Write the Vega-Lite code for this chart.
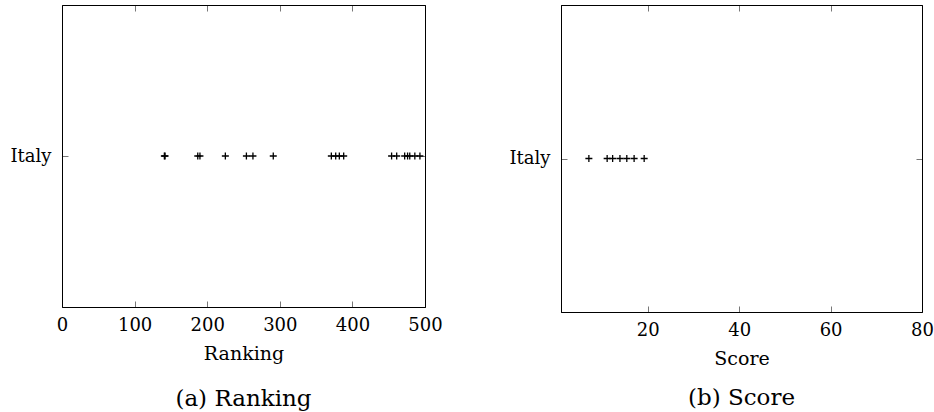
{
  "$schema": "https://vega.github.io/schema/vega-lite/v6.json",
  "background": "white",
  "padding": {"left": 9, "top": 4, "right": 0, "bottom": 0},
  "bounds": "full",
  "spacing": 65,
  "config": {
    "font": "DejaVu Serif",
    "view": {"stroke": "black", "strokeWidth": 1},
    "axis": {
      "labelFont": "DejaVu Serif",
      "titleFont": "DejaVu Serif",
      "labelFontSize": 18,
      "titleFontSize": 19,
      "titleFontWeight": "normal",
      "labelColor": "black",
      "titleColor": "black",
      "domainColor": "black",
      "tickColor": "#777777",
      "tickWidth": 1,
      "labelFlush": false,
      "grid": false
    },
    "title": {"font": "DejaVu Serif", "fontSize": 23, "fontWeight": "normal", "color": "black"}
  },
  "hconcat": [
    {
      "width": 363,
      "height": 302,
      "title": {"text": "(a) Ranking", "orient": "bottom", "offset": 25},
      "data": {"values": [
        {"country": "Italy", "ranking": 141},
        {"country": "Italy", "ranking": 142},
        {"country": "Italy", "ranking": 187},
        {"country": "Italy", "ranking": 190},
        {"country": "Italy", "ranking": 225},
        {"country": "Italy", "ranking": 254},
        {"country": "Italy", "ranking": 263},
        {"country": "Italy", "ranking": 291},
        {"country": "Italy", "ranking": 371},
        {"country": "Italy", "ranking": 377},
        {"country": "Italy", "ranking": 382},
        {"country": "Italy", "ranking": 388},
        {"country": "Italy", "ranking": 454},
        {"country": "Italy", "ranking": 461},
        {"country": "Italy", "ranking": 472},
        {"country": "Italy", "ranking": 476},
        {"country": "Italy", "ranking": 479},
        {"country": "Italy", "ranking": 486},
        {"country": "Italy", "ranking": 493}
      ]},
      "layer": [
        {
          "mark": {"type": "point", "shape": "M-1,0L1,0M0,-1L0,1", "stroke": "black", "strokeWidth": 1.3, "size": 49, "opacity": 1},
          "encoding": {
            "x": {"field": "ranking", "type": "quantitative", "scale": {"domain": [0, 500], "nice": false, "zero": false},
                  "axis": {"orient": "bottom", "values": [0, 100, 200, 300, 400, 500], "title": "Ranking", "tickSize": -6, "labelPadding": 15, "titlePadding": 10}},
            "y": {"field": "country", "type": "nominal",
                  "axis": {"orient": "left", "title": null, "tickSize": -6, "labelPadding": 17}}
          }
        },
        {
          "mark": {"type": "point", "opacity": 0},
          "encoding": {
            "x": {"field": "ranking", "type": "quantitative", "scale": {"domain": [0, 500], "nice": false, "zero": false},
                  "axis": {"orient": "top", "values": [0, 100, 200, 300, 400, 500], "labels": false, "title": null, "tickSize": -6}},
            "y": {"field": "country", "type": "nominal",
                  "axis": {"orient": "right", "labels": false, "title": null, "tickSize": -6}}
          }
        }
      ]
    },
    {
      "width": 361,
      "height": 307,
      "title": {"text": "(b) Score", "orient": "bottom", "offset": 19},
      "data": {"values": [
        {"country": "Italy", "score": 7.1},
        {"country": "Italy", "score": 11.1},
        {"country": "Italy", "score": 12.3},
        {"country": "Italy", "score": 13.9},
        {"country": "Italy", "score": 15.4},
        {"country": "Italy", "score": 17.0},
        {"country": "Italy", "score": 19.2}
      ]},
      "layer": [
        {
          "mark": {"type": "point", "shape": "M-1,0L1,0M0,-1L0,1", "stroke": "black", "strokeWidth": 1.3, "size": 49, "opacity": 1},
          "encoding": {
            "x": {"field": "score", "type": "quantitative", "scale": {"domain": [1, 80], "nice": false, "zero": false},
                  "axis": {"orient": "bottom", "values": [20, 40, 60, 80], "title": "Score", "tickSize": -6, "labelPadding": 15, "titlePadding": 10}},
            "y": {"field": "country", "type": "nominal",
                  "axis": {"orient": "left", "title": null, "tickSize": -6, "labelPadding": 17}}
          }
        },
        {
          "mark": {"type": "point", "opacity": 0},
          "encoding": {
            "x": {"field": "score", "type": "quantitative", "scale": {"domain": [1, 80], "nice": false, "zero": false},
                  "axis": {"orient": "top", "values": [20, 40, 60, 80], "labels": false, "title": null, "tickSize": -6}},
            "y": {"field": "country", "type": "nominal",
                  "axis": {"orient": "right", "labels": false, "title": null, "tickSize": -6}}
          }
        }
      ]
    }
  ]
}
